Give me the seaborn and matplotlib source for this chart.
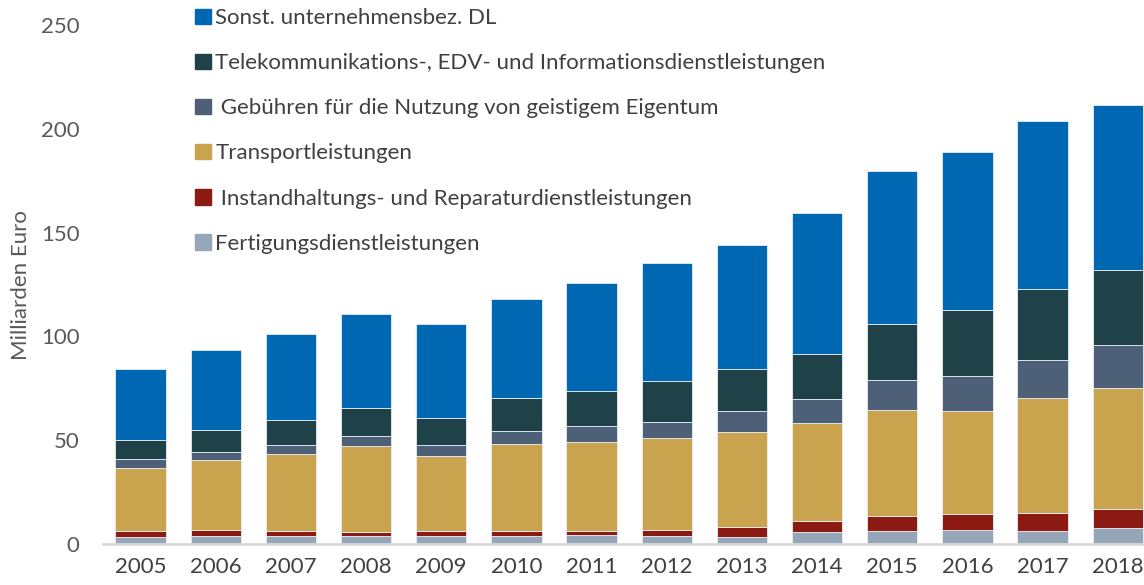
import pandas as pd
import matplotlib
matplotlib.use("Agg")
import matplotlib.pyplot as plt
import matplotlib.patches as mpatches
import seaborn as sns

sns.set_theme(style="white")
plt.rcParams['font.family'] = ['Lato', 'DejaVu Sans']

# Daten (Milliarden Euro), von unten nach oben gestapelt
jahre = [str(j) for j in range(2005, 2019)]
fertigung = [3.5, 4.0, 3.7, 3.9, 3.9, 4.0, 4.3, 4.0, 3.5, 5.9, 6.4, 6.7, 6.4, 7.5]
instandhaltung = [2.9, 2.9, 2.4, 1.9, 2.4, 2.3, 2.0, 2.7, 4.5, 5.3, 6.9, 7.6, 8.7, 9.2]
transport = [30.2, 33.6, 37.3, 41.6, 36.1, 42.0, 42.8, 44.2, 45.8, 46.9, 51.1, 49.9, 55.4, 58.7]
gebuehren = [4.5, 4.0, 4.4, 4.6, 5.4, 6.3, 7.9, 7.9, 10.1, 11.7, 14.6, 16.9, 18.3, 20.6]
telekom = [9.0, 10.4, 11.9, 13.5, 12.9, 15.7, 16.7, 19.7, 20.4, 21.7, 27.0, 31.6, 34.0, 36.0]
sonstige = [34.2, 38.4, 41.6, 45.5, 45.5, 48.0, 52.0, 57.0, 59.7, 68.2, 73.7, 76.1, 80.8, 79.5]

serien = [
    ("Fertigungsdienstleistungen", fertigung, "#94a6b8"),
    (" Instandhaltungs- und Reparaturdienstleistungen", instandhaltung, "#8b1a13"),
    ("Transportleistungen", transport, "#c9a34e"),
    (" Gebühren für die Nutzung von geistigem Eigentum", gebuehren, "#4e6078"),
    ("Telekommunikations-, EDV- und Informationsdienstleistungen", telekom, "#1f4249"),
    ("Sonst. unternehmensbez. DL", sonstige, "#0068b2"),
]

fig = plt.figure(figsize=(11.44, 5.85), dpi=100)
ax = fig.add_axes([0.090, 0.070, 0.910, 0.887])

bottom = [0.0] * len(jahre)
handles = []
for name, werte, farbe in serien:
    df = pd.DataFrame({"jahr": jahre, "wert": werte})
    sns.barplot(data=df, x="jahr", y="wert", bottom=bottom, color=farbe,
                saturation=1, width=0.67, edgecolor="#e8eef5", linewidth=0.6, ax=ax)
    bottom = [b + w for b, w in zip(bottom, werte)]
    handles.append(mpatches.Patch(color=farbe, label=name))

ax.set_ylim(0, 250)
ax.set_xlim(-0.5, 13.35)
ax.set_yticks([0, 50, 100, 150, 200, 250])
ax.set_xlabel("")
ax.set_ylabel("Milliarden Euro", fontsize=16, color="#595959")
ax.yaxis.set_label_coords(-0.069, 0.5)
ax.tick_params(axis="y", labelsize=16, labelcolor="#595959", length=0, pad=17)
ax.tick_params(axis="x", labelsize=16, labelcolor="#404040", length=0, pad=9)

for s in ["top", "right", "left"]:
    ax.spines[s].set_visible(False)
ax.spines["bottom"].set_color("#d9d9d9")
ax.spines["bottom"].set_linewidth(2)

leg = ax.legend(handles=handles[::-1], loc="upper left", bbox_to_anchor=(0.08, 1.05),
                frameon=False, fontsize=16, labelspacing=1.13,
                handlelength=0.7, handleheight=0.7, handletextpad=0.2,
                borderaxespad=0)
for t in leg.get_texts():
    t.set_color("#404040")

plt.savefig("out.png", dpi=100)
plt.close()
